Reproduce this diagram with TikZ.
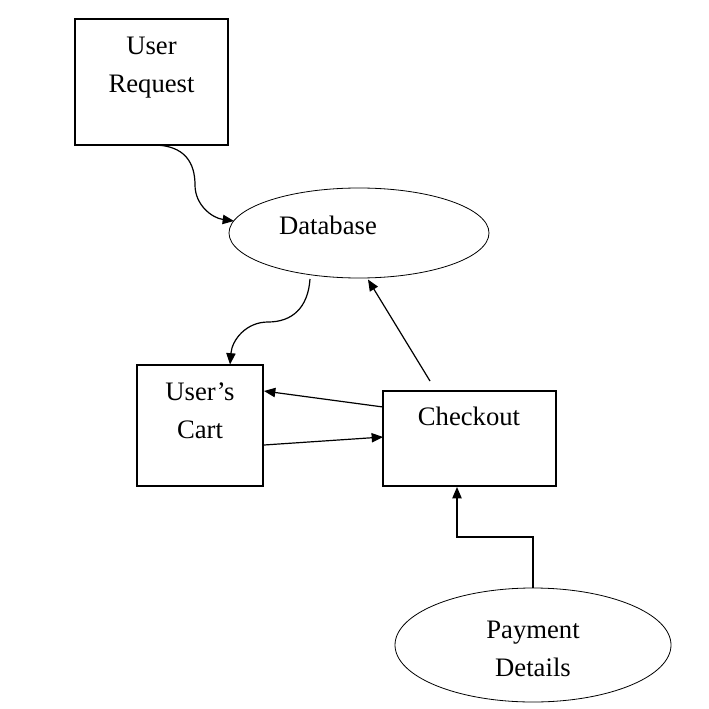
\documentclass[tikz,border=0pt]{standalone}
\usepackage{fontspec}
\setmainfont{Liberation Serif}
\usetikzlibrary{arrows.meta,shapes.geometric}
\begin{document}
\begin{tikzpicture}[x=0.75pt,y=-0.75pt,
  box/.style={draw,line width=0.8pt,rectangle,inner sep=0pt},
  oval/.style={draw,line width=0.6pt,ellipse,inner sep=0pt},
  lbl/.style={font=\fontsize{20}{28.5}\selectfont,align=center,inner sep=0pt},
  conn/.style={line width=0.9pt,-{Triangle[length=8.5pt,width=7pt]}}]
\useasboundingbox (0,0) rectangle (708,709);
\fill[white] (0,0) rectangle (708,709);
% shapes
\node[box,minimum width=153*0.75pt,minimum height=126*0.75pt] (ur) at (151.5,82) {};
\node[oval,minimum width=260*0.75pt,minimum height=90*0.75pt] (db) at (359,233) {};
\node[box,minimum width=126*0.75pt,minimum height=121*0.75pt] (cart) at (200,425.5) {};
\node[box,minimum width=173*0.75pt,minimum height=95*0.75pt] (co) at (469.5,438.5) {};
\node[oval,minimum width=276*0.75pt,minimum height=114*0.75pt] (pay) at (533,645) {};
% labels
\node[lbl] (urt) at (151.5,68) {User\\Request};
\node[lbl] (dbt) at (328,225) {Database};
\node[lbl] (cartt) at (200,411) {User’s\\Cart};
\node[lbl] (cot) at (469,416) {Checkout};
\node[lbl] (payt) at (533,649) {Payment\\Details};
% connector points
\coordinate (a1) at (153,145);
\coordinate (a2) at (195,185);
\coordinate (a3) at (234,221);
\coordinate (b1) at (310,279);
\coordinate (b2) at (268,322);
\coordinate (b3) at (230,364.5);
\coordinate (c1) at (430,381);
\coordinate (c2) at (368,279.5);
\coordinate (d1) at (383,407);
\coordinate (d2) at (264,391);
\coordinate (e1) at (264,445);
\coordinate (e2) at (383,437);
\coordinate (f1) at (533,588);
\coordinate (f2) at (457,487);
% connectors
\draw[conn] (a1) .. controls (185,145) and (195,163) .. (a2) .. controls (195,205) and (212,218) .. (a3);
\draw[conn] (b1) .. controls (308,308) and (292,322) .. (b2) .. controls (246,322) and (232,340) .. (b3);
\draw[conn] (c1) -- (c2);
\draw[conn] (d1) -- (d2);
\draw[conn] (e1) -- (e2);
\draw[conn] (f1) |- (457,537) -- (f2);
\end{tikzpicture}
\end{document}
